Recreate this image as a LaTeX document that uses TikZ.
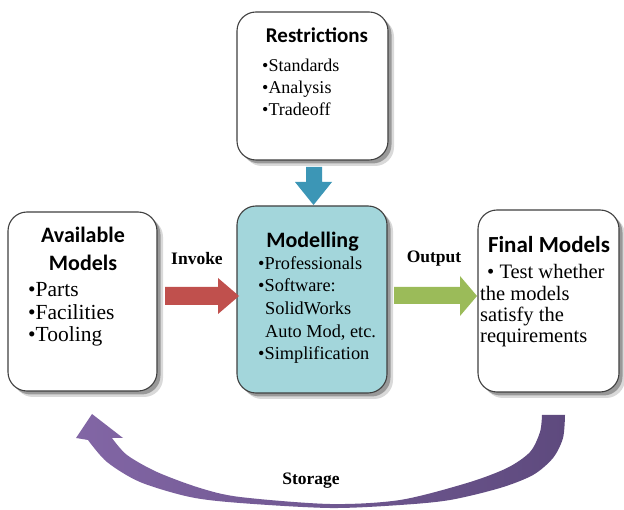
\documentclass[tikz,border=0pt]{standalone}
\usepackage{fontspec}
\setmainfont{Liberation Serif}
\newfontfamily\headfont{Carlito}
\usetikzlibrary{shadows}
\definecolor{boxline}{RGB}{64,64,64}
\definecolor{modfill}{RGB}{163,214,219}
\definecolor{bluearrow}{RGB}{60,150,182}
\definecolor{redarrow}{RGB}{192,80,77}
\definecolor{greenarrow}{RGB}{155,187,89}
\definecolor{purpleL}{RGB}{130,102,165}
\definecolor{purpleR}{RGB}{94,74,126}
\begin{document}
\begin{tikzpicture}[x=1pt,y=-1pt,
  box/.style={draw=boxline, line width=1.1pt, rounded corners=19pt, fill=white, inner sep=0pt,
    drop shadow={shadow xshift=6pt,shadow yshift=-6pt,fill=black!15,opacity=1},
    drop shadow={shadow xshift=3.5pt,shadow yshift=-3.5pt,fill=black!40,opacity=1}},
  titletext/.style={anchor=base, inner sep=0pt, font=\headfont\bfseries\fontsize{#1}{#1}\selectfont},
  bodytext/.style={anchor=base west, inner sep=0pt, font=\fontsize{#1}{#1}\selectfont},
  arrowlabel/.style={anchor=base, inner sep=0pt, font=\bfseries\fontsize{17.5}{17.5}\selectfont}
]
\useasboundingbox (0,0) rectangle (624,510);
\fill[white] (0,0) rectangle (624,510);

% storage arc
\shade[left color=purpleL, right color=purpleR]
  plot[smooth] coordinates {(565,415) (563,438) (553,458) (533,475) (500,488) (450,500) (400,505) (330,508) (240,503) (190,497) (140,482) (107,462) (88,440)}
  -- (76,438) -- (92,414) -- (123,438) --
  plot[smooth] coordinates {(112,438) (127,455) (157,472) (200,488) (240,497) (330,504) (400,500) (467,483) (507,468) (530,452) (540,432) (542,415)}
  -- cycle;

% boxes
\node[box, minimum width=151pt, minimum height=148pt] (restr) at (312.5,86) {};
\node[box, minimum width=149pt, minimum height=179pt] (avail) at (82.5,301.5) {};
\node[box, fill=modfill, minimum width=150pt, minimum height=187pt] (model) at (312,299.5) {};
\node[box, minimum width=141pt, minimum height=182pt] (final) at (548.5,301) {};

% block arrows
\fill[bluearrow] (306,167) -- (322,167) -- (322,182) -- (332,182) -- (313.5,205) -- (295,182) -- (306,182) -- cycle;
\fill[redarrow] (165,287) -- (218,287) -- (218,278) -- (239,296) -- (218,314) -- (218,305) -- (165,305) -- cycle;
\fill[greenarrow] (394,287) -- (460,287) -- (460,276) -- (477,296) -- (460,316) -- (460,304) -- (394,304) -- cycle;

% Restrictions
\node[titletext=21] (restrT) at (317,43) {Restrictions};
\node[bodytext=18] (restr1) at (262,72) {•Standards};
\node[bodytext=18] (restr2) at (262,94) {•Analysis};
\node[bodytext=18] (restr3) at (262,116) {•Tradeoff};

% Available Models
\node[titletext=22] (availT1) at (83,243) {Available};
\node[titletext=22] (availT2) at (83,271) {Models};
\node[bodytext=21.5] (avail1) at (28,297) {•Parts};
\node[bodytext=21.5] (avail2) at (28,320) {•Facilities};
\node[bodytext=21.5] (avail3) at (28,342) {•Tooling};

% Modelling
\node[titletext=22] (modelT) at (312.5,248) {Modelling};
\node[bodytext=18.3] (model1) at (258,270) {•Professionals};
\node[bodytext=18.3] (model2) at (258,292) {•Software:};
\node[bodytext=18.3] (model3) at (265,315) {SolidWorks};
\node[bodytext=18.3] (model4) at (265,338) {Auto Mod, etc.};
\node[bodytext=18.3] (model5) at (258,360) {•Simplification};

% Final Models
\node[titletext=23] (finalT) at (549,253) {Final Models};
\node[bodytext=20.5] (final1) at (487,279) {• Test whether};
\node[bodytext=20.5] (final2) at (480,300.5) {the models};
\node[bodytext=20.5] (final3) at (480,322) {satisfy the};
\node[bodytext=20.5] (final4) at (480,343) {requirements};

% labels
\node[arrowlabel] (invoke) at (197,265) {Invoke};
\node[arrowlabel] (output) at (434,263) {Output};
\node[arrowlabel] (storage) at (311,485) {Storage};
\end{tikzpicture}
\end{document}
